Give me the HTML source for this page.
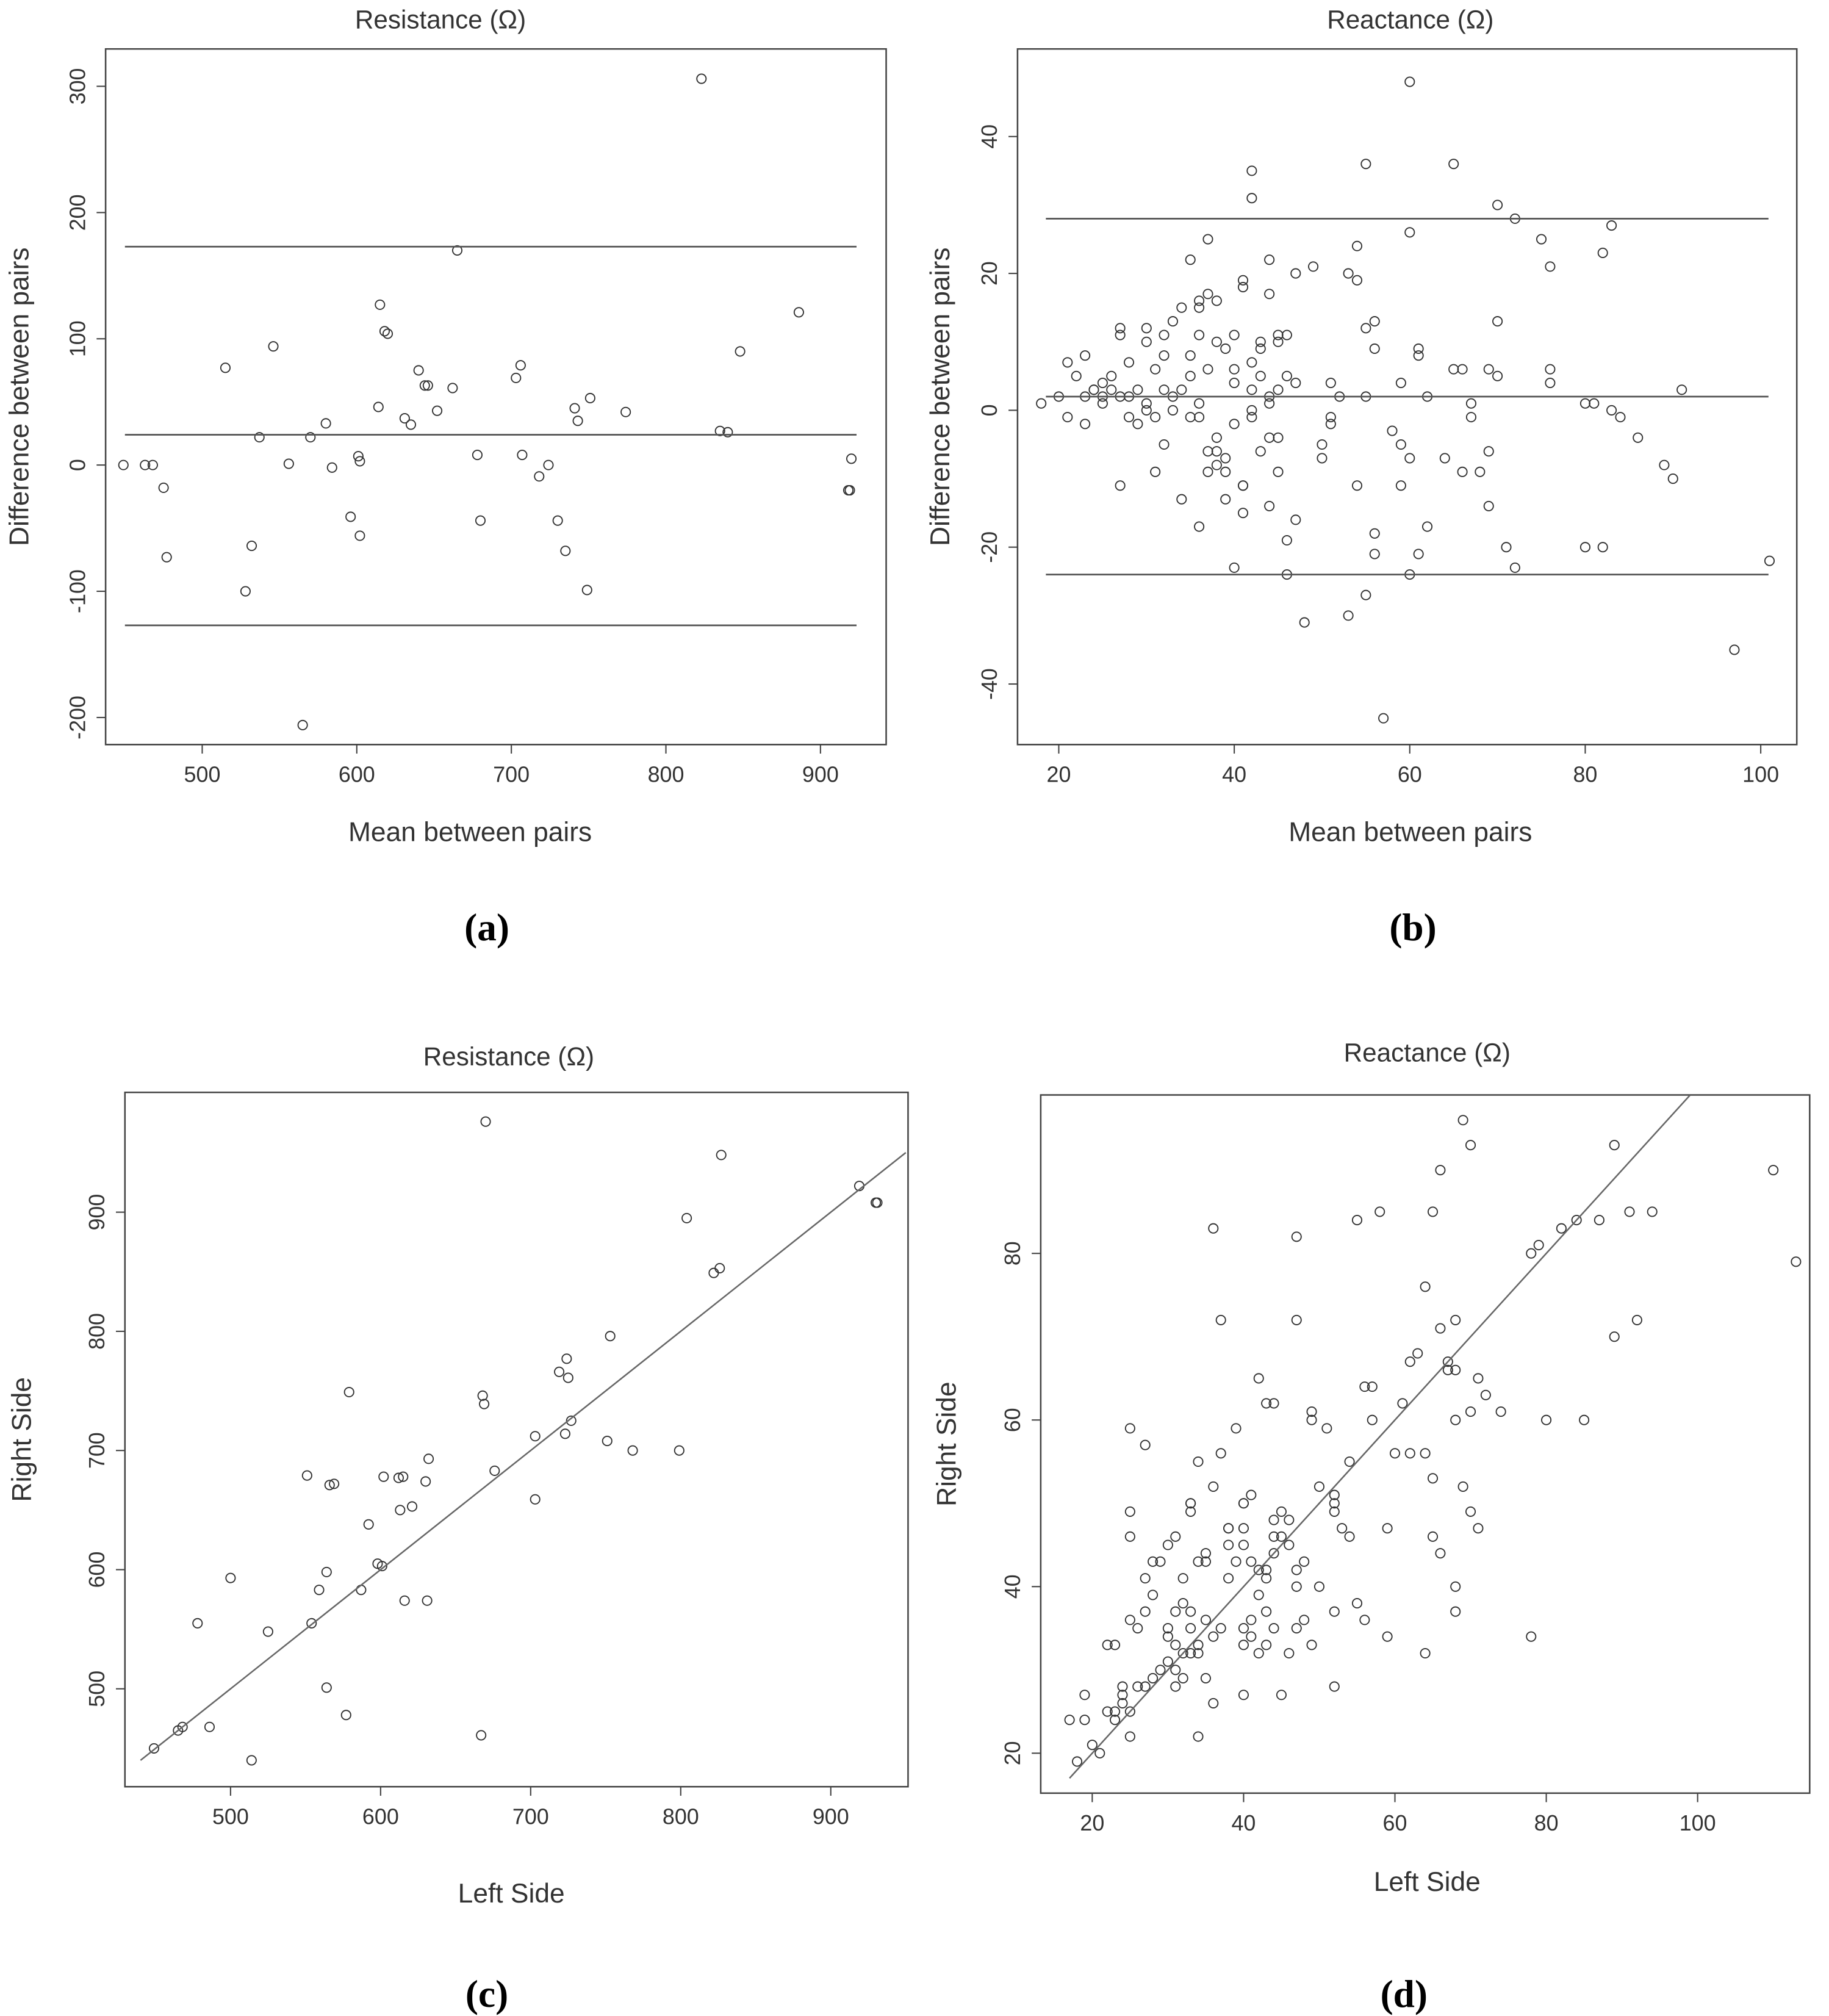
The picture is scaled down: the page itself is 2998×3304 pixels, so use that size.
<!DOCTYPE html>
<html><head><meta charset="utf-8"><style>
html,body{margin:0;padding:0;background:#fff}
svg{display:block}
text{font-family:"Liberation Sans",sans-serif;fill:#333}
.lbl{font-family:"Liberation Serif",serif;font-weight:bold;fill:#000}
</style></head><body>
<svg id="fig" width="2998" height="3304" viewBox="0 0 1420 1565" preserveAspectRatio="none" xmlns="http://www.w3.org/2000/svg"></svg>
<script>
// Panel (a): Bland-Altman resistance
const aMean=[449,463,468,475,477,515,528,532,537,546,556,565,570,580,584,596,601,602,602,614,615,618,620,631,635,640,644,646,652,662,665,678,680,703,706,707,718,724,730,735,741,743,749,751,774,823,835,840,848,886,918,919,920];
const aDiff=[0,0,0,-18,-73,77,-100,-64,22,94,1,-206,22,33,-2,-41,7,3,-56,46,127,106,104,37,32,75,63,63,43,61,170,8,-44,69,79,8,-9,0,-44,-68,45,35,-99,53,42,306,27,26,90,121,-20,-20,5];
const aLines=[173,24,-127];
const aXTicks=[500,600,700,800,900];
const aYTicks=[-200,-100,0,100,200,300];
// Panel (b): Bland-Altman reactance
const bMean=[18,20,21,21,22,23,23,23,24,24,25,25,25,26,26,27,27,27,27,28,28,28,29,29,30,30,30,30,31,31,31,32,32,32,32,33,33,33,34,34,34,35,35,35,35,36,36,36,36,36,36,37,37,37,37,37,38,38,38,38,38,39,39,39,39,40,40,40,40,40,41,41,41,41,41,42,42,42,42,42,42,43,43,43,43,44,44,44,44,44,44,45,45,45,45,45,46,46,46,46,47,47,47,48,49,50,50,51,51,51,52,53,53,54,54,54,55,55,55,55,56,56,56,56,57,58,59,59,59,60,60,60,60,61,61,61,62,62,64,65,65,66,66,67,67,68,69,69,69,70,70,70,71,72,72,75,76,76,76,80,80,81,82,82,83,83,84,86,89,90,91,97,101];
const bDiff=[1,2,7,-1,5,2,8,-2,3,3,2,1,4,5,3,2,12,11,-11,2,7,-1,3,-2,12,10,1,0,-9,-1,6,8,11,3,-5,13,2,0,15,3,-13,8,5,-1,22,16,15,11,1,-1,-17,25,17,6,-6,-9,-6,-8,-4,16,10,9,-9,-13,-7,-23,11,6,-2,4,19,18,-11,-15,-11,35,31,7,3,-1,0,10,9,5,-6,17,22,2,1,-14,-4,11,10,3,-9,-4,11,5,-19,-24,20,-16,4,-31,21,-5,-7,4,-2,-1,2,20,-30,19,-11,24,-27,36,12,2,13,9,-21,-18,-45,-3,4,-5,-11,48,26,-24,-7,9,8,-21,2,-17,-7,36,6,6,-9,1,-1,-9,-6,-14,6,30,5,13,-20,28,-23,25,21,6,4,1,-20,1,23,-20,27,0,-1,-4,-8,-10,3,-35,-22];
const bLines=[28,2,-24];
const bXTicks=[20,40,60,80,100];
const bYTicks=[-40,-20,0,20,40];
// Panel (c): Left vs Right resistance
const cLeft=[449,465,468,478,486,500,514,525,551,554,559,564,564,566,569,577,579,587,592,598,601,602,612,613,615,616,621,630,631,632,667,668,669,670,676,703,703,719,723,724,725,727,751,753,768,799,804,822,826,827,919,930,931];
const cRight=[450,465,468,555,468,593,440,548,679,555,583,598,501,671,672,478,749,583,638,605,603,678,677,650,678,574,653,674,574,693,461,746,739,976,683,712,659,766,714,777,761,725,708,796,700,700,895,849,853,948,922,908,908];
const cFit=[440,950];
const cXTicks=[500,600,700,800,900];
const cYTicks=[500,600,700,800,900];
// Panel (d): Left vs Right reactance
const dLeft=[17,18,19,19,20,21,22,22,23,23,23,24,24,24,25,25,25,25,25,25,26,26,27,27,27,27,28,28,28,29,29,30,30,30,30,31,31,31,31,31,32,32,32,32,33,33,33,33,33,33,34,34,34,34,34,35,35,35,35,36,36,36,36,37,37,37,38,38,38,38,39,39,40,40,40,40,40,40,40,41,41,41,41,42,42,42,42,43,43,43,43,43,44,44,44,44,44,45,45,45,46,46,46,47,47,47,47,47,48,48,49,49,49,50,50,51,52,52,52,52,52,53,54,54,55,55,56,56,57,57,58,59,59,60,61,62,62,63,64,64,64,65,65,65,66,66,66,67,67,68,68,68,68,68,69,69,70,70,70,71,71,72,74,78,78,79,80,82,84,85,87,89,89,91,92,94,110,113];
const dRight=[24,19,27,24,21,20,33,25,33,24,25,26,28,27,22,25,46,49,59,36,35,28,57,37,41,28,39,43,29,30,43,45,35,34,31,28,37,46,33,30,29,32,38,41,50,50,49,37,32,35,32,33,22,55,43,29,36,43,44,83,26,34,52,56,35,72,45,41,47,47,43,59,50,50,47,45,33,35,27,51,36,34,43,65,32,39,42,41,42,62,37,33,62,48,35,46,44,27,46,49,32,45,48,82,72,42,40,35,43,36,61,60,33,52,40,59,51,50,49,37,28,47,55,46,84,38,64,36,64,60,85,47,34,56,62,56,67,68,76,56,32,85,46,53,90,71,44,67,66,72,66,60,40,37,96,52,93,61,49,47,65,63,61,80,34,81,60,83,84,60,84,93,70,85,72,85,90,79];
const dFit=[17,99];
const dXTicks=[20,40,60,80,100];
const dYTicks=[20,40,60,80];

const NS="http://www.w3.org/2000/svg";
const svg=document.getElementById('fig');
function mk(tag,attrs,parent){const e=document.createElementNS(NS,tag);for(const k in attrs)e.setAttribute(k,attrs[k]);(parent||svg).appendChild(e);return e;}
function scale(v0,p0,v1,p1){return v=>p0+(v-v0)*(p1-p0)/(v1-v0);}

function panel(id,box,sx,sy,xs,ys,xt,yt,title,titleX,titleY,xlab,xlabX,xlabY,ylab,ylabX,letter,letterX,letterY){
  const g=mk('g',{});
  
  
  const frame=mk('rect',{x:box[0],y:box[1],width:box[2]-box[0],height:box[3]-box[1],fill:'none',stroke:'#444','stroke-width':1.2},g);
  
  
  const t=mk('text',{x:titleX,y:titleY,'text-anchor':'middle','font-size':20},g);t.textContent=title;
  
  
  xt.forEach(v=>{const x=sx(v);
    const tk=mk('line',{x1:x,x2:x,y1:box[3],y2:box[3]+7,stroke:'#444'},g);
    
    
    const tl=mk('text',{x:x,y:box[3]+29,'text-anchor':'middle','font-size':17,fill:'#555'},g);tl.textContent=v;
    
    
  });
  yt.forEach(v=>{const y=sy(v);
    const tk=mk('line',{x1:box[0]-7,x2:box[0],y1:y,y2:y,stroke:'#444'},g);
    
    
    const tl=mk('text',{x:box[0]-16,y:y,'text-anchor':'middle','font-size':17,fill:'#555',transform:`rotate(-90 ${box[0]-16} ${y})`},g);tl.textContent=v;
    
    
  });
  const xl=mk('text',{x:xlabX,y:xlabY,'text-anchor':'middle','font-size':21},g);xl.textContent=xlab;
  
  
  const cy=(box[1]+box[3])/2;
  const yl=mk('text',{x:ylabX,y:cy,'text-anchor':'middle','font-size':21,transform:`rotate(-90 ${ylabX} ${cy})`},g);yl.textContent=ylab;
  
  
  const pl=mk('text',{x:letterX,y:letterY,'text-anchor':'middle','font-size':30,class:'lbl'},g);pl.textContent=letter;
  
  
  xs.forEach((v,i)=>{
    const c=mk('circle',{cx:sx(v),cy:sy(ys[i]),r:3.6,fill:'none',stroke:'#333','stroke-width':0.9},g);
    
    
  });
  return g;
}
function hlines(g,vals,sy,x1,x2){vals.forEach(v=>{
  const l=mk('line',{x1:x1,x2:x2,y1:sy(v),y2:sy(v),stroke:'#555','stroke-width':1.3},g);
  
  
});}
function fitline(g,f,sx,sy,box){
  const clipId='c'+Math.round(box[0]);
  const cp=mk('clipPath',{id:clipId},g);mk('rect',{x:box[0],y:box[1],width:box[2]-box[0],height:box[3]-box[1]},cp);
  const l=mk('line',{x1:sx(f[0]),y1:sy(f[0]),x2:sx(f[1]),y2:sy(f[1]),stroke:'#666','stroke-width':1.2,'clip-path':`url(#${clipId})`},g);
  
  
}

// (a)
let sx=scale(500,157,900,637), sy=scale(300,67,-200,557);
let g=panel('panel-a',[82,38,688,578],sx,sy,aMean,aDiff,aXTicks,aYTicks,'Resistance (Ω)',342,22,'Mean between pairs',365,653,'Difference between pairs',22,'(a)',378,730);
hlines(g,aLines,sy,97,665);
// (b)
sx=scale(20,822,100,1367); sy=scale(40,106,-40,531);
g=panel('panel-b',[790,38,1395,578],sx,sy,bMean,bDiff,bXTicks,bYTicks,'Reactance (Ω)',1095,22,'Mean between pairs',1095,653,'Difference between pairs',737,'(b)',1097,730);
hlines(g,bLines,sy,812,1373);
// (c)
sx=scale(500,179,900,645); sy=scale(900,941,500,1311);
g=panel('panel-c',[97,848,705,1387],sx,sy,cLeft,cRight,cXTicks,cYTicks,'Resistance (Ω)',395,827,'Left Side',397,1477,'Right Side',24,'(c)',378,1558);
fitline(g,cFit,sx,sy,[97,848,705,1387]);
// (d)
sx=scale(20,848,100,1318); sy=scale(80,973,20,1361);
g=panel('panel-d',[808,850,1405,1392],sx,sy,dLeft,dRight,dXTicks,dYTicks,'Reactance (Ω)',1108,824,'Left Side',1108,1468,'Right Side',742,'(d)',1090,1558);
fitline(g,dFit,sx,sy,[808,850,1405,1392]);
</script>
</body></html>
